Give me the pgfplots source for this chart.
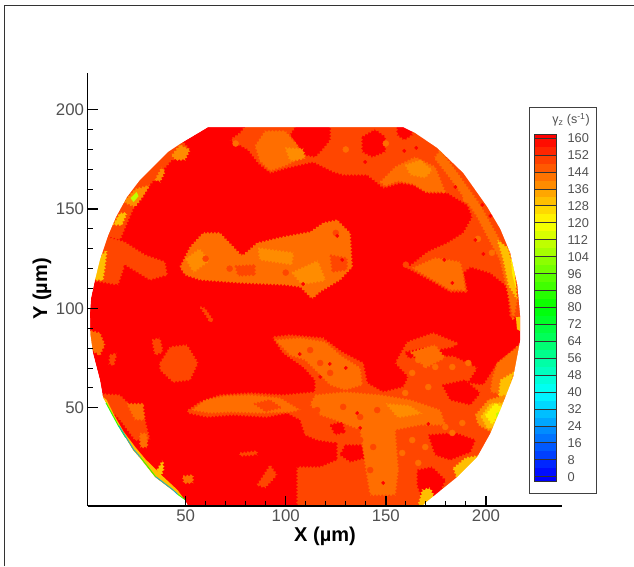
\documentclass[border=0pt]{standalone}
\usepackage{pgfplots}
\pgfplotsset{compat=1.18}
\usetikzlibrary{decorations.pathmorphing}
\usepackage{fontspec}
\setmainfont{Liberation Sans}
\definecolor{cA}{HTML}{FF0000}
\definecolor{cB}{HTML}{FF4600}
\definecolor{cC}{HTML}{FF6E00}
\definecolor{cD}{HTML}{FF8C00}
\definecolor{cE}{HTML}{FFBF00}
\definecolor{cF}{HTML}{FFF000}
\definecolor{cG}{HTML}{BFFF00}
\definecolor{txt}{HTML}{505050}
\newcommand\plain[2]{\addplot[fill=#1,draw=none,forget plot] coordinates {#2} --cycle;}
\newcommand\reg[2]{\addplot[fill=#1,draw=none,forget plot,decorate,decoration={zigzag,segment length=3.5pt,amplitude=1pt}] coordinates {#2} --cycle;}
\newcommand\band[5]{\addplot[fill={rgb,255:red,#3;green,#4;blue,#5},draw=none,forget plot] coordinates {(0,#1)(1,#1)(1,#2)(0,#2)} --cycle;}
\begin{document}
\begin{tikzpicture}[x=1pt,y=1pt]
\path[use as bounding box] (0,0) rectangle (634,566);
\draw[color=black!80,line width=1pt] (4.5,0) -- (4.5,560.7) -- (634,560.7);
\begin{axis}[
  at={(87.5pt,60pt)},anchor=south west,scale only axis,width=474.5pt,height=433pt,
  xmin=1,xmax=238,ymin=0.5,ymax=218.5,
  axis lines=left,axis line style={-,line width=1.6pt},axis on top,
  tick align=inside,
  xtick={50,100,150,200},ytick={50,100,150,200},minor tick num=4,
  major tick length=10pt,minor tick length=5.5pt,
  major tick style={line width=1.4pt,black},minor tick style={line width=0.9pt,black},
  /pgf/number format/assume math mode=true,
  tick label style={font=\fontsize{16.8}{17}\selectfont,text=txt},
  xlabel={X (µm)},ylabel={Y (µm)},
  xlabel style={at={(axis description cs:0.5005,-0.069)},anchor=center,font=\fontsize{20}{20}\selectfont\bfseries},
  ylabel style={at={(axis description cs:-0.0959,0.501)},anchor=center,font=\fontsize{20}{20}\selectfont\bfseries},
]
% disc
\plain{cA}{(61.2,191.3)(48.7,183.8)(41.2,178.8)(27.2,164.7)(20.7,156.1)(15.2,146)(11.2,136.5)(7.2,124.5)(4.7,114.3)(2.7,105)(2.2,97.7)(2.4,87)(3.7,77.5)(7.2,63.9)(8.7,55.4)(16.2,41.3)(23.7,28.7)(27.2,24.7)(34.7,15.1)(43.2,8.6)(49.7,3.5)(51.2,0.5)(168.2,0.5)(169.7,2)(185.7,15.1)(195.7,25.2)(202.2,37)(207.2,48.8)(213.7,65.5)(217.2,84.1)(217.2,95.7)(215.7,112)(212.2,127.9)(207.2,140)(200.7,151.1)(188.7,168.2)(175.7,180.8)(164.7,188.3)(158.7,191.3)}
% upper and right band
\reg{cB}{(82.2,195)(170,195)(178,184)(191,171)(203,153)(210,141)(215,129)(219,112)(220,95.7)(212.2,95.7)(210.7,110.8)(202.2,117.8)(192.2,120.8)(188.7,117.8)(190.7,108.3)(182.2,108.3)(173.7,113.3)(160.7,120.3)(170.7,128.4)(180.7,132.9)(188.7,138)(193.2,146)(190.7,152)(180.7,158.1)(170.7,158.1)(163.7,162.1)(157.2,163.1)(148.7,160.6)(140.7,167.2)(128.7,167.2)(123.7,168.7)(113.7,173.7)(107.2,172.2)(100.7,170.7)(92.2,168.2)(86.2,173.2)(81.2,179.8)(72.2,184.8)(77.2,188.3)}
\reg{cA}{(107.2,195)(122.2,195)(122.2,184.8)(118.2,179.8)(114.7,176.2)(109.7,177.2)(105.7,182.2)(102.2,187.3)}
\reg{cA}{(138.2,186.3)(144.7,190)(149.7,186.3)(149.7,178.8)(143.2,176.2)(138.2,178.8)}
\reg{cA}{(155.7,195)(162.2,195)(163.2,187.3)(159.2,184.8)(155.7,187.3)}
\reg{cC}{(84.7,181.8)(89.7,189.3)(99.7,189.3)(106.2,181.8)(107.2,175.3)(99.7,171.8)(92.2,169.2)(87.2,174.2)}
\reg{cC}{(147.2,163.6)(154.7,171.2)(164.7,176.2)(174.7,171.2)(179.7,158.6)(169.7,158.6)(163.7,162.6)(156.2,164.1)(149.7,161.6)}
\reg{cD}{(99.7,180.8)(108.7,180.3)(109.7,175.3)(102.2,174.2)}
\reg{cD}{(159.7,172.2)(167.2,174.7)(173.2,169.7)(169.7,165.7)(162.2,167.2)}
\reg{cC}{(177.2,179.8)(184.7,169.7)(197.2,152.1)(209.7,129.4)(215.7,104.2)(213.7,94.2)(211.7,104.2)(207,124.3)(195,147)(182.7,164.7)(174.2,175.7)}
\reg{cE}{(205.7,134.4)(211.2,130.4)(214.7,114.3)(215.7,104.2)(211.2,111.8)(208.7,124.3)}
\plain{cF}{(212.2,126.9)(214.2,119.3)(215.2,109.3)(213.2,116.8)}
\plain{cE}{(215,95.7)(217.2,95.7)(217.2,88.5)(215.5,89.5)}
\reg{cC}{(163.2,120.3)(174.7,125.4)(187.2,123.4)(188.7,116.8)(189.7,109.3)(182.2,109.3)(173.7,114.3)}
% central blob
\reg{cC}{(47.2,120.8)(52.2,130.9)(58.7,138)(67.2,138)(78.2,126.4)(85.7,132.9)(98.7,136)(112.2,138.5)(118.7,143)(125.7,144.5)(132.2,138)(133.2,120.8)(127.2,114.3)(117.2,108.3)(113.2,104.7)(107.2,110.8)(99.7,111.8)(77.2,112.8)(57.2,114.3)(49.7,116.8)}
\reg{cB}{(122.2,126.9)(130.7,125.4)(130.7,119.3)(123.2,118.3)}
\reg{cB}{(74.7,121.4)(84.7,121.9)(84.7,116.8)(76.2,116.3)}
\reg{cD}{(50,125)(57,130)(62,124)(54,118)}
\reg{cD}{(86.2,130.4)(104,128)(103,122)(87,124.4)}
\reg{cD}{(103,118)(116,124)(120,114)(108,112)}
% left patches
\reg{cB}{(8,137)(19.7,133.4)(29.7,126.9)(39.7,123.4)(40.7,116.8)(32.2,114.3)(19.7,121.9)(16.2,111.8)(2,114.3)}
\reg{cB}{(46,187)(38,181)(24,167)(18,158)(12,148)(8,137)(17.2,134.4)(24.7,152.1)(32.2,162.1)(43.2,174.7)(52.2,179.8)}
\reg{cE}{(3,114.3)(6,125)(10.7,129.4)(9.7,120.3)(8.7,114.3)}
\reg{cE}{(13.7,142)(17.2,148)(20.7,148)(18.2,142)}
\reg{cD}{(19,153.5)(24.7,160)(32.2,162)(28.2,155.5)(24.7,151)}
\plain{cG}{(22.5,155.5)(25.5,158.6)(26.5,156.5)(24,153.5)}
\reg{cD}{(34.7,164.7)(38.2,171.2)(39.7,168.7)(37.2,163.6)}
\reg{cD}{(43.2,177.2)(47.2,182.3)(52.2,179.8)(49.7,174.7)(44.7,174.7)}
\reg{cB}{(33.2,84.1)(37.2,85.1)(38.7,78)(34.7,76.5)}
\reg{cB}{(37.2,72.5)(42.2,80.6)(50.7,81.6)(56.2,72.5)(52.2,63.9)(43.7,62.9)(37.2,69)}
\reg{cB}{(57.2,100.7)(59.7,100.2)(63.7,94.2)(62.2,93.2)}
\reg{cC}{(1,89.1)(7.2,87.6)(9.7,81.6)(7.2,76.5)(2,79.1)}
\reg{cB}{(12.2,76.5)(15.7,77.5)(14.2,71.5)(11.7,72)}
\reg{cB}{(6,57)(17.2,56.4)(24.7,48.8)(29.7,43.8)(32.2,33.7)(24.7,33.7)(17.2,43.8)(12.2,48.8)}
\reg{cC}{(20.7,52)(28.7,52)(29.7,43.8)(24.7,44)}
\reg{cC}{(27.2,37)(30.7,37)(31,30)(27.2,30)}
\reg{cE}{(35.7,18.6)(38.7,23.7)(39,18.6)(37.2,14.6)}
\reg{cC}{(48.7,15.6)(53.7,16.1)(53.7,12)(49,12)}
\reg{cB}{(85.7,11.1)(92.2,21.1)(95.7,16.1)(89.7,9.6)}
\reg{cB}{(77.2,27.2)(85.7,28.2)(85.7,26.2)(77.2,25.7)}
% lower band
\reg{cB}{(51.2,48.8)(57.2,52.9)(67.2,56.4)(82.2,57.4)(98.7,56.4)(114.7,57.9)(114.7,63.9)(108.7,70.5)(98.7,77.5)(93.2,85.6)(102.2,86.6)(118.7,85.1)(128.2,78)(138.7,72.5)(140.7,62.4)(148.7,57.9)(158.7,60.4)(161.2,65.5)(154.7,72.5)(160.7,83.1)(173.7,87.6)(185.7,82.6)(180.7,77.5)(195.7,70)(190.7,62.4)(198.7,61.4)(205.7,72.5)(213.7,79)(220,84.1)(216,65.5)(210,48.8)(205,37)(198,23)(188,13)(172,0)(168.2,-3)(105.7,-3)(105.7,20.1)(117.2,20.1)(125.7,23.7)(125.7,32.2)(115.7,33.7)(109.7,36.3)(107.2,43.8)(100.7,47.3)(90.7,45.3)(73.7,46.3)(60.7,45.3)(51.2,47.3)}
\reg{cA}{(129.7,31.2)(138.2,31.2)(139.7,24.7)(132.2,22.7)(127.2,26.2)}
\reg{cA}{(165.7,18.6)(173.2,20.1)(179.7,13.6)(177.2,7.6)(170,0)(165.7,10.6)}
\reg{cA}{(171.2,36.3)(184.7,37.3)(194.7,33.7)(192.2,27.7)(182.2,23.7)(174.7,26.2)}
\reg{cA}{(178.2,61.4)(189.7,63.9)(197.2,57.4)(192.2,51.4)(182.2,53.9)}
\reg{cA}{(159.7,78)(169.7,80)(169.7,76)(161.2,75)}
\reg{cA}{(175.7,79)(184.7,80.6)(184.7,76)(177.2,76)}
\reg{cA}{(122.2,41.3)(128.2,42.8)(129.7,37.8)(124.7,36.3)}
\reg{cA}{(145.7,27.2)(151.2,27.7)(152.2,23.7)(147.2,22.7)}
\reg{cC}{(94.7,84.1)(107.2,85.1)(119.7,83.1)(127.2,76.5)(137.2,70)(138.2,61.4)(129.7,58.9)(122.2,61.4)(117.2,66.5)(109.7,74)(102.2,76.5)}
\reg{cC}{(114.7,56.4)(129.7,57.9)(147.2,56.4)(162.2,53.9)(177.2,48.8)(179.7,41.3)(167.2,41.3)(154.7,38.8)(156.2,18.6)(154.7,6)(142.2,6)(139.7,21.1)(137.2,38.8)(124.7,43.8)(117.2,46.3)(112.2,51.4)}
\reg{cC}{(53.2,48.8)(59.7,53.9)(69.7,55.9)(82.2,56.4)(97.2,54.9)(107.2,48.8)(102.2,47.8)(87.2,47.3)(72.2,47.8)(62.2,47.3)}
\reg{cB}{(84,52)(92,54)(98,50)(90,48)}
\reg{cD}{(150,52)(162,51)(168,47)(156,45)}
\reg{cC}{(162.2,78)(174.7,81.6)(179.7,75)(169.7,70)}
% lower right rim
\reg{cC}{(205.7,72.5)(213.7,79)(219,84)(215,65)(210,56.4)(202.2,57.9)(203.2,65)}
\reg{cE}{(207.2,63.9)(214,68)(211,56.4)(206.2,54.9)}
\reg{cD}{(194.7,46.3)(201.2,53.9)(209.7,56.4)(209,48.8)(204,37)(196.2,41.3)}
\reg{cE}{(197.5,45.5)(202,52)(209,52.5)(207,42)(201,39)}
\reg{cF}{(199.7,46.3)(204.7,52.4)(208,50)(203.2,41.3)}
\plain{cG}{(205,47)(206.5,48)(205.5,44.5)}
\reg{cE}{(183.7,19.6)(189.7,24.7)(197,26)(192.2,18.6)(185.7,14)}
\reg{cE}{(166,0)(168.2,8.6)(172.2,9.6)(174.2,5)(170,0)}
% texture
\addplot[only marks,mark=*,mark size=3pt,color=cB,forget plot] coordinates {(112.2,79)(117.2,72.5)(122.2,67.5)(128.7,50.4)(115.7,48.8)(137.2,45.3)(145.7,48.8)(132.2,33.7)(137.2,33.7)(143.7,30.2)(117.2,17.1)(125.7,15.1)(133.7,20.1)(142.2,18.6)(60,125)(72,120)(100,118)(160,122)(125,138)};
\addplot[only marks,mark=*,mark size=3pt,color=cC,forget plot] coordinates {(166.2,74)(174.7,70.5)(183.2,70.5)(191.2,72.5)(163.2,67.5)(171.2,60.4)(159.7,57.4)(179.7,40.3)(163.2,33.7)(158.2,27.2)(166.2,22.2)(154.7,18.6)(169.7,30.2)(183.2,37.3)(188.2,42.3)(196,135)(203,128)(190,155)(130,180)(150,183)(75,183)};
% small red spots
\addplot[only marks,mark=*,mark size=1.7pt,color=cA,forget plot] coordinates {(125.7,136.5)(128.2,124.4)(108.7,112.3)(179.2,124.4)(183.2,112.8)(194.7,134.4)(198.7,127.4)(165.2,180.8)(184.7,161.1)(139.7,173.7)(159.2,179.3)(198.2,152.1)(202.2,146.5)(117.2,65.5)(135.7,47.3)(171.2,41.8)(137.2,39.8)(148.7,12.1)(107,77)(130,70)(122,72)};
% outside of the disc
\plain{white}{(1,218.5)(238,218.5)(238,0.5)(168.2,0.5)(169.7,2)(185.7,15.1)(195.7,25.2)(202.2,37)(207.2,48.8)(213.7,65.5)(217.2,84.1)(217.2,95.7)(215.7,112)(212.2,127.9)(207.2,140)(200.7,151.1)(188.7,168.2)(175.7,180.8)(164.7,188.3)(158.7,191.3)(61.2,191.3)(48.7,183.8)(41.2,178.8)(27.2,164.7)(20.7,156.1)(15.2,146)(11.2,136.5)(7.2,124.5)(4.7,114.3)(2.7,105)(2.2,97.7)(2.4,87)(3.7,77.5)(7.2,63.9)(8.7,55.4)(16.2,41.3)(23.7,28.7)(27.2,24.7)(34.7,15.1)(43.2,8.6)(49.7,3.5)(51.2,0.5)(1,0.5)}
% thin rim at lower left
\plain{cE}{(8.7,55.4)(10.5,54)(14.5,46)(19,38)(25,30)(30,24)(38,16)(46,8.5)(49.7,3.5)(43.2,8.6)(34.7,15.1)(27.2,24.7)(23.7,28.7)(16.2,41.3)}
\addplot[color=green!85!yellow,line width=0.9pt,forget plot] coordinates {(10.2,52.5)(16.2,41.3)(20,35)};
\addplot[color=cyan!90!green,line width=0.8pt,forget plot] coordinates {(16.6,41)(24,29)(27.5,25)};
\addplot[color=cyan!90!green,line width=0.8pt,forget plot] coordinates {(35,15.3)(43.5,8.8)(46,6.4)};
\addplot[color=green!85!yellow,line width=0.8pt,forget plot] coordinates {(27.5,25)(35,15.3)};
\addplot[color=green!85!yellow,line width=0.8pt,forget plot] coordinates {(46,6.4)(49.7,3.7)};
\end{axis}
% colour legend frame
\draw[color=black!75,line width=1pt] (529.3,73) rectangle (596,458);
\node[anchor=center,text=txt,font=\fontsize{12.5}{12.5}\selectfont] at (571,446) {γ\textsubscript{z} (s\textsuperscript{-1})};
\begin{axis}[
  at={(534.7pt,85pt)},anchor=south west,scale only axis,width=21.3pt,height=347pt,
  xmin=0,xmax=1,ymin=-2,ymax=162,
  xtick=\empty,ytick={0,8,16,24,32,40,48,56,64,72,80,88,96,104,112,120,128,136,144,152,160},
  tick align=inside,major tick length=21.3pt,ytick pos=right,yticklabel pos=right,
  major tick style={line width=0.9pt,black!80},
  axis line style={line width=0.8pt,black!80},axis on top,
  /pgf/number format/assume math mode=true,
  tick label style={font=\fontsize{12.8}{13}\selectfont,text=txt},
  yticklabel style={xshift=8pt},
]
\band{160}{162}{255}{0}{0}
\band{156}{160}{255}{13}{0}\band{152}{156}{255}{38}{0}\band{148}{152}{255}{64}{0}\band{144}{148}{255}{89}{0}
\band{140}{144}{255}{115}{0}\band{136}{140}{255}{140}{0}\band{132}{136}{255}{166}{0}\band{128}{132}{255}{191}{0}
\band{124}{128}{255}{217}{0}\band{120}{124}{255}{242}{0}\band{116}{120}{242}{255}{0}\band{112}{116}{217}{255}{0}
\band{108}{112}{191}{255}{0}\band{104}{108}{166}{255}{0}\band{100}{104}{140}{255}{0}\band{96}{100}{115}{255}{0}
\band{92}{96}{89}{255}{0}\band{88}{92}{64}{255}{0}\band{84}{88}{38}{255}{0}\band{80}{84}{13}{255}{0}
\band{76}{80}{0}{255}{13}\band{72}{76}{0}{255}{38}\band{68}{72}{0}{255}{64}\band{64}{68}{0}{255}{89}
\band{60}{64}{0}{255}{115}\band{56}{60}{0}{255}{140}\band{52}{56}{0}{255}{166}\band{48}{52}{0}{255}{191}
\band{44}{48}{0}{255}{217}\band{40}{44}{0}{255}{242}\band{36}{40}{0}{242}{255}\band{32}{36}{0}{217}{255}
\band{28}{32}{0}{191}{255}\band{24}{28}{0}{166}{255}\band{20}{24}{0}{140}{255}\band{16}{20}{0}{115}{255}
\band{12}{16}{0}{89}{255}\band{8}{12}{0}{64}{255}\band{4}{8}{0}{38}{255}\band{0}{4}{0}{13}{255}
\band{-2}{0}{0}{0}{255}
\end{axis}
\end{tikzpicture}
\end{document}
